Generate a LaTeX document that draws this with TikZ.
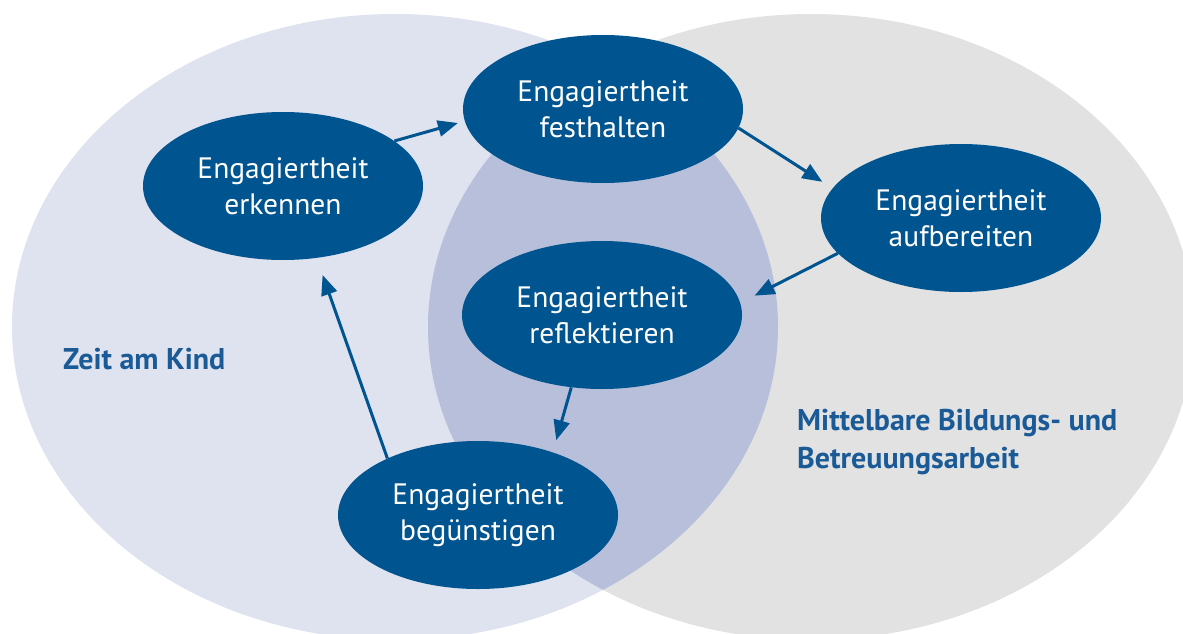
\documentclass[tikz,border=0pt]{standalone}
\usepackage{fontspec}
\setmainfont{PT Sans}
\usetikzlibrary{shapes.geometric,arrows.meta}
\definecolor{leftc}{HTML}{DFE2EF}
\definecolor{rightc}{HTML}{E2E2E2}
\definecolor{overc}{HTML}{B8BFDB}
\definecolor{nodec}{HTML}{00548F}
\definecolor{labc}{HTML}{1A5A96}
\begin{document}
\begin{tikzpicture}[x=1pt,y=-1pt,
  stage/.style={ellipse, fill=nodec, text=white, minimum width=280pt, minimum height=148pt, inner sep=0pt, align=center, font=\fontsize{29.5}{36}\selectfont},
  flow/.style={draw=nodec, line width=3pt, -{Triangle[length=20pt,width=16pt]}},
  lab/.style={text=labc, font=\fontsize{30}{38}\selectfont\bfseries, anchor=base west, inner sep=0pt, align=left}]
\useasboundingbox (0,0) rectangle (1183,634);
\clip (0,0) rectangle (1183,634);
\fill[leftc] (395,327) ellipse [x radius=383pt, y radius=313pt];
\fill[rightc] (811,327) ellipse [x radius=383pt, y radius=313pt];
\begin{scope}
\clip (395,327) ellipse [x radius=383pt, y radius=313pt];
\fill[overc] (811,327) ellipse [x radius=383pt, y radius=313pt];
\end{scope}
\node[stage] (fest) at (603,109) {Engagiertheit\\festhalten};
\node[stage] (erk) at (283,186) {Engagiertheit\\erkennen};
\node[stage] (auf) at (961,218) {Engagiertheit\\aufbereiten};
\node[stage] (refl) at (602,315) {Engagiertheit\\reflektieren};
\node[stage] (beg) at (478,515) {Engagiertheit\\begünstigen};
\draw[flow, shorten >=7pt] (erk.22) -- (fest.185);
\draw[flow, shorten >=12pt] (fest.-8.5) -- (auf.167.5);
\draw[flow, shorten >=16pt] (auf.196.7) -- (refl.5.4);
\draw[flow, shorten >=12.5pt] (refl.247) -- (beg.40.7);
\draw[flow, shorten >=18pt] (beg.148) -- (erk.-65);
\node[lab] (zeit) at (63,369) {Zeit am Kind};
\node[lab] (mittel) at (797,468) {Mittelbare Bildungs- und\\Betreuungsarbeit};
\end{tikzpicture}
\end{document}
